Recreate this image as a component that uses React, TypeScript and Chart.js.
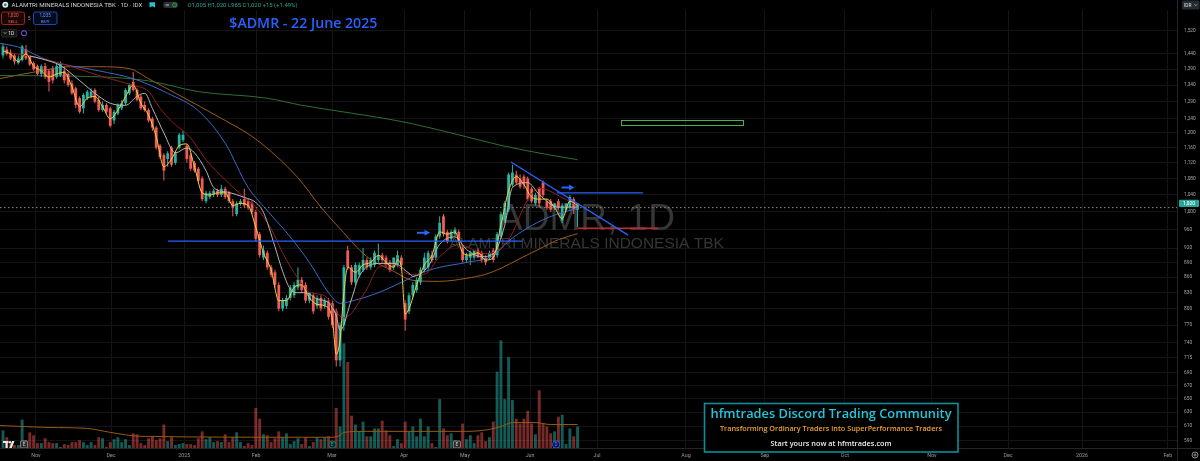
import React, { useEffect, useRef } from "react";
import { Chart, registerables } from "chart.js";

Chart.register(...registerables);

// ---------------- data ----------------
const openP = [1435,1455,1445,1435,1410,1420,1455,1430,1410,1400,1375,1400,1385,1390,1365,1370,1385,1375,1345,1330,1300,1270,1300,1305,1325,1295,1265,1280,1270,1235,1255,1270,1285,1315,1350,1325,1305,1280,1265,1240,1215,1165,1140,1130,1160,1120,1160,1180,1165,1140,1120,1105,1080,1025,1035,1040,1050,1040,1055,1045,1025,995,1020,1030,1025,1020,1000,950,900,910,880,870,845,800,805,820,825,840,855,845,815,825,805,820,805,815,810,795,710,770,915,880,850,865,875,895,880,885,895,905,900,890,880,885,900,810,795,825,835,850,875,880,905,900,945,990,955,940,950,955,920,895,900,900,915,910,900,900,915,905,945,980,1005,1065,1090,1080,1085,1080,1055,1020,1055,1070,1025,1025,1010,1025,980,1005,1010,1030,1005];
const highP = [1475,1465,1455,1440,1435,1470,1470,1435,1415,1405,1405,1410,1390,1400,1410,1415,1400,1380,1355,1335,1305,1315,1325,1330,1330,1305,1290,1285,1275,1265,1285,1295,1330,1345,1380,1330,1310,1290,1270,1245,1220,1170,1145,1150,1165,1150,1200,1205,1170,1145,1125,1110,1085,1050,1050,1055,1055,1065,1060,1050,1030,1025,1030,1055,1030,1025,1005,955,925,915,885,875,850,820,825,845,850,880,860,850,830,830,825,825,820,820,815,800,775,885,925,885,890,890,920,900,900,915,930,910,905,895,900,915,905,815,830,850,860,880,910,915,915,950,990,995,960,960,965,960,925,910,915,915,920,915,905,915,920,955,1000,1025,1095,1115,1100,1090,1090,1085,1060,1045,1060,1075,1030,1030,1020,1030,1020,1020,1040,1035,1020];
const lowP = [1425,1435,1420,1405,1405,1415,1420,1400,1385,1370,1365,1360,1320,1345,1360,1365,1345,1335,1310,1270,1255,1255,1295,1300,1285,1260,1260,1255,1215,1225,1250,1265,1280,1310,1320,1290,1265,1260,1230,1205,1155,1130,1075,1110,1110,1115,1155,1175,1120,1100,1095,1070,1025,1020,1030,1035,1035,1035,1030,1020,990,990,1015,1010,1005,995,935,900,895,875,860,840,795,795,800,815,820,835,830,810,810,790,800,795,800,780,765,700,700,760,875,845,845,860,870,875,875,880,890,890,880,870,875,880,880,760,790,820,830,845,870,875,890,895,940,945,930,935,945,935,890,890,885,895,900,890,885,895,890,900,940,975,1000,1060,1065,1055,1055,1025,1020,1015,1010,1035,1005,1000,1005,1005,975,1000,1005,995,965];
const closeP = [1465,1440,1425,1415,1425,1465,1425,1405,1390,1375,1400,1365,1350,1355,1400,1410,1355,1340,1315,1280,1260,1310,1320,1320,1290,1265,1280,1260,1220,1260,1280,1285,1325,1340,1325,1295,1270,1265,1235,1215,1160,1135,1100,1145,1115,1145,1195,1195,1130,1105,1100,1075,1030,1045,1045,1050,1040,1055,1035,1025,1010,1020,1025,1015,1010,1000,940,905,915,880,865,845,800,815,820,840,845,855,835,815,830,795,820,800,815,785,770,710,770,880,880,850,885,885,895,880,895,910,905,895,885,875,900,905,885,780,825,845,855,875,900,910,895,945,975,950,935,955,960,935,895,905,910,915,900,895,890,910,895,950,995,1020,1090,1095,1070,1060,1065,1030,1025,1040,1020,1040,1010,1005,1020,1010,1015,1020,1035,1005,1020];
const volumeM = [18,11,4,3,3,29,8,16,13,5,5,10,6,5,5,1,4,3,6,6,8,6,3,6,3,11,10,1,6,9,11,6,9,3,15,14,5,3,10,12,8,10,24,7,11,3,4,5,4,4,3,10,17,9,11,6,7,6,14,6,11,16,6,2,5,3,41,30,14,13,6,10,17,11,15,4,7,10,4,11,2,6,11,9,11,12,6,41,22,107,88,33,24,17,27,12,12,20,20,28,18,13,2,9,5,27,17,22,12,30,12,22,5,1,50,20,13,15,8,3,25,9,13,5,13,16,7,11,27,78,110,50,93,49,30,25,30,38,25,14,59,25,22,15,17,32,34,4,20,12,22];

// moving-average lines (bar index, price)
const maYellowIdx = [0,2,4,6,8,10,12,14,16,18,20,22,24,26,28,30,32,34,36,38,40,42,44,46,48,50,52,54,56,58,60,62,64,66,68,70,72,74,76,78,80,82,84,86,87,88,89,90,92,94,96,98,100,102,103,104,105,106,108,110,112,114,116,118,120,122,124,126,128,130,132,134,136,138,140,142,144,146,148,150];
const maYellowVal = [1450,1440,1415,1440,1400,1385,1365,1375,1380,1335,1275,1300,1305,1275,1240,1265,1305,1340,1285,1250,1190,1110,1130,1165,1170,1110,1045,1040,1045,1045,1015,1020,1015,965,910,875,815,815,840,845,820,808,805,780,720,745,830,880,870,885,890,905,890,880,895,880,790,800,845,885,905,955,950,955,910,905,910,895,900,970,1050,1085,1065,1035,1030,1030,1010,985,1025,1015];
const maGrayIdx = [7,10,15,20,25,28,32,35,37,39,42,45,48,50,53,55,59,63,66,68,71,73,75,77,79,82,85,87,88,91,93,98,102,106,107,111,114,118,121,125,128,131,133,137,140,145,150];
const maGrayVal = [1433,1424,1402,1354,1306,1285,1279,1306,1315,1270,1200,1146,1159,1146,1100,1058,1046,1034,1022,999,923,872,837,830,830,818,811,787,761,818,862,888,888,868,862,882,928,944,917,902,908,970,1058,1070,1041,1011,1011];
const maRedIdx = [2,7,17,25,34,38,41,44,49,53,58,63,66,70,73,77,80,84,87,89,95,98,102,106,110,114,119,126,132,137,140,147,150];
const maRedVal = [1443,1433,1402,1370,1339,1321,1270,1233,1186,1128,1077,1034,1011,962,910,858,831,824,794,783,837,880,886,866,866,902,927,908,938,1029,1056,1029,1015];
const maBlueIdx = [-1,4,12,25,34,43,51,58,64,68,75,80,85,88,91,98,104,109,114,121,128,132,137,142,147,150];
const maBlueVal = [1476,1463,1418,1385,1360,1315,1263,1172,1058,1013,944,890,830,810,814,830,850,868,880,890,904,935,964,986,1001,1008];
const maOrangeIdx = [-1,10,17,25,33,38,46,57,66,77,83,88,95,102,107,114,121,126,130,135,140,145,150];
const maOrangeVal = [1360,1385,1398,1398,1392,1360,1309,1241,1183,1082,1011,962,902,872,854,852,858,866,878,898,918,938,951];
const maGreenIdx = [-1,25,38,51,69,78,91,104,117,130,143,150];
const maGreenVal = [1370,1366,1353,1320,1300,1279,1256,1232,1200,1166,1140,1128];
const volMaIdx = [-1,12,22,28,36,78,86,88,89,95,121,127,130,133,139,143,150];
const volMaVal = [23,21,20,16,12,11,11,13,16,17,17,19,22,26,26,24,24];

// drawings on the chart
const supportIdx = [43.1, 135.5];
const supportVal = [935, 935];
const resistIdx = [144.6, 167.1];
const resistVal = [1045, 1045];
const trendIdx = [132.6, 163.2];
const trendVal = [1122, 948];
const redLevelIdx = [150, 171];
const redLevelVal = [963, 963];
const targetBoxIdx = [161.4, 193.2];
const targetBoxVal = [1221, 1235];
const arrowIdx = [109.8, 147.5];
const arrowVal = [953, 1058];
const eventIdx = [5.5, 86, 118.5, 144.4];
const eventKind = ["E", "C", "E", "D"];
const lastPriceLine = 1010;

// axes
const priceTicks = [590,610,630,650,670,690,715,740,770,800,830,860,890,920,960,1000,1040,1080,1120,1160,1200,1240,1290,1340,1390,1440,1520];
const monthTickIdx = [8.6,28.2,47.3,66.1,85.9,104.7,120.6,137.6,155.1,178.3,198.9,219.8,242.5,262.4,281.7,304.1];
const monthTickLabels = ["Nov","Dec","2025","Feb","Mar","Apr","May","Jun","Jul","Aug","Sep","Oct","Nov","Dec","2026","Feb"];
const X_MIN = -0.78;
const X_MAX = 306.5;
const Y_MIN = 580;
const Y_MAX = 1594;
const VOL_MAX = 448;

// ---------------- styles ----------------
const UP = "#2ab3a3";
const DN = "#f25c58";
const VOL_UP = "rgba(38,166,154,0.55)";
const VOL_DN = "rgba(239,83,80,0.5)";
const SANS = 'Roboto, "Noto Sans", "Liberation Sans", sans-serif';

const isUp = (i: number) => i != null && closeP[i] >= openP[i];
const pts = (xs: number[], ys: number[]) => xs.map((x, k) => ({ x, y: ys[k] }));

function txt(ctx: any, s: string, x: number, y: number, o: any) {
  ctx.save();
  ctx.font = `${o.weight || 400} ${o.size}px ${o.family || SANS}`;
  ctx.fillStyle = o.color;
  ctx.textBaseline = "alphabetic";
  ctx.textAlign = "left";
  const m = ctx.measureText(s).width;
  const sx = o.width ? o.width / m : 1;
  const w = m * sx;
  let left = x;
  if (o.align === "center") left = x - w / 2;
  else if (o.align === "right") left = x - w;
  ctx.translate(left, y);
  ctx.scale(sx, 1);
  ctx.fillText(s, 0, 0);
  ctx.restore();
}

function rrect(ctx: any, x: number, y: number, w: number, h: number, r: number) {
  ctx.beginPath();
  ctx.moveTo(x + r, y);
  ctx.lineTo(x + w - r, y);
  ctx.quadraticCurveTo(x + w, y, x + w, y + r);
  ctx.lineTo(x + w, y + h - r);
  ctx.quadraticCurveTo(x + w, y + h, x + w - r, y + h);
  ctx.lineTo(x + r, y + h);
  ctx.quadraticCurveTo(x, y + h, x, y + h - r);
  ctx.lineTo(x, y + r);
  ctx.quadraticCurveTo(x, y, x + r, y);
  ctx.closePath();
}

const overlay = {
  id: "overlay",
  beforeDraw(chart: any) {
    const ctx = chart.ctx;
    ctx.save();
    ctx.fillStyle = "#000";
    ctx.fillRect(0, 0, chart.width, chart.height);
    ctx.restore();
  },
  beforeDatasetsDraw(chart: any) {
    const ctx = chart.ctx;
    const a = chart.chartArea;
    const cx = (a.left + a.right) / 2 - 2;
    txt(ctx, "ADMR, 1D", cx, 230, { size: 37, family: '"Liberation Sans", Arial, sans-serif', color: "#363636", align: "center" });
    txt(ctx, "ALAMTRI MINERALS INDONESIA TBK", cx, 248, { size: 15.5, family: '"Liberation Sans", Arial, sans-serif', color: "#363636", align: "center" });
  },
  afterDatasetsDraw(chart: any) {
    const ctx = chart.ctx;
    const xs = chart.scales.x;
    const ys = chart.scales.y;
    const a = chart.chartArea;
    ctx.save();
    ctx.beginPath();
    ctx.rect(a.left, a.top, a.right - a.left, a.bottom - a.top);
    ctx.clip();
    // target box
    const bx0 = xs.getPixelForValue(targetBoxIdx[0]);
    const bx1 = xs.getPixelForValue(targetBoxIdx[1]);
    const by0 = ys.getPixelForValue(targetBoxVal[1]);
    const by1 = ys.getPixelForValue(targetBoxVal[0]);
    ctx.strokeStyle = "#4caf50";
    ctx.lineWidth = 1;
    ctx.strokeRect(Math.round(bx0) + 0.5, Math.round(by0) + 0.5, Math.round(bx1 - bx0), Math.round(by1 - by0));
    // arrows
    ctx.fillStyle = "#2962ff";
    arrowIdx.forEach((ix, k) => {
      const px = xs.getPixelForValue(ix);
      const py = ys.getPixelForValue(arrowVal[k]);
      ctx.fillRect(px - 6.5, py - 1, 8, 2);
      ctx.beginPath();
      ctx.moveTo(px + 1, py - 3);
      ctx.lineTo(px + 6.5, py);
      ctx.lineTo(px + 1, py + 3);
      ctx.closePath();
      ctx.fill();
    });
    // event markers
    eventIdx.forEach((ix, k) => {
      const px = xs.getPixelForValue(ix);
      const py = 444.5;
      const kind = eventKind[k];
      if (kind === "E") {
        rrect(ctx, px - 3.5, py - 3.5, 7, 7, 1);
        ctx.fillStyle = "#2a2a2a";
        ctx.fill();
        ctx.strokeStyle = "#9e9e9e";
        ctx.lineWidth = 0.8;
        ctx.stroke();
        txt(ctx, "E", px, py + 1.8, { size: 4.8, color: "#d0d0d0", align: "center" });
      } else {
        ctx.beginPath();
        ctx.arc(px, py, 3.6, 0, Math.PI * 2);
        ctx.fillStyle = kind === "D" ? "#06123a" : "#062421";
        ctx.fill();
        ctx.strokeStyle = kind === "D" ? "#2962ff" : "#1f8a7e";
        ctx.lineWidth = 0.9;
        ctx.stroke();
        txt(ctx, kind === "D" ? "D" : "E", px, py + 1.8, { size: 4.6, color: kind === "D" ? "#6f93ff" : "#48b3a6", align: "center" });
      }
    });
    ctx.restore();
  },
  afterDraw(chart: any) {
    const ctx = chart.ctx;
    const ys = chart.scales.y;
    const a = chart.chartArea;
    ctx.save();
    // pane borders
    ctx.strokeStyle = "#262626";
    ctx.lineWidth = 1;
    ctx.beginPath();
    ctx.moveTo(a.right + 0.5, 0);
    ctx.lineTo(a.right + 0.5, chart.height);
    ctx.moveTo(0, a.bottom + 0.5);
    ctx.lineTo(chart.width, a.bottom + 0.5);
    ctx.stroke();

    // last price label
    const last = closeP[closeP.length - 1];
    const ly = ys.getPixelForValue(last);
    ctx.fillStyle = "#26a69a";
    rrect(ctx, a.right + 2, ly - 3.6, 20, 7.2, 1);
    ctx.fill();
    txt(ctx, last.toLocaleString("en-US"), a.right + 12, ly + 1.7, { size: 4.8, color: "#ffffff", align: "center", weight: 500 });

    // IDR box
    ctx.fillStyle = "#262a33";
    rrect(ctx, 1182, 0.5, 17.5, 9, 1.5);
    ctx.fill();
    txt(ctx, "IDR", 1184, 6.8, { size: 4.8, color: "#e0e0e0" });
    ctx.strokeStyle = "#cfcfcf";
    ctx.lineWidth = 0.7;
    ctx.beginPath();
    ctx.moveTo(1194.5, 4.3);
    ctx.lineTo(1195.8, 5.6);
    ctx.lineTo(1197.1, 4.3);
    ctx.stroke();

    // gear icon
    ctx.strokeStyle = "#9a9a9a";
    ctx.lineWidth = 0.9;
    ctx.beginPath();
    ctx.arc(1195, 455, 3, 0, Math.PI * 2);
    ctx.stroke();
    ctx.beginPath();
    ctx.arc(1195, 455, 1.1, 0, Math.PI * 2);
    ctx.stroke();

    // TradingView logo (bottom-left)
    ctx.fillStyle = "#e6e6e6";
    ctx.fillRect(3, 441, 5.5, 2);
    ctx.fillRect(5.5, 441, 2.2, 7);
    ctx.beginPath();
    ctx.arc(10, 442.2, 1.2, 0, Math.PI * 2);
    ctx.fill();
    ctx.beginPath();
    ctx.moveTo(12, 441);
    ctx.lineTo(14.5, 441);
    ctx.lineTo(11.8, 448);
    ctx.lineTo(9.3, 448);
    ctx.closePath();
    ctx.fill();

    // header: symbol line
    ctx.beginPath();
    ctx.arc(5.3, 4.8, 3, 0, Math.PI * 2);
    ctx.fillStyle = "#dfe7ea";
    ctx.fill();
    ctx.beginPath();
    ctx.arc(5.3, 4.8, 1.4, 0, Math.PI * 2);
    ctx.fillStyle = "#1b7b8f";
    ctx.fill();
    txt(ctx, "ALAMTRI MINERALS INDONESIA TBK · 1D · IDX", 11.5, 7.4, { size: 5.6, color: "#d1d4dc", width: 131 });
    ctx.fillStyle = "#1fc2d6";
    ctx.beginPath();
    ctx.moveTo(149.5, 2.3);
    ctx.lineTo(155, 2.3);
    ctx.lineTo(155, 7.6);
    ctx.lineTo(152.2, 6.2);
    ctx.lineTo(149.5, 7.6);
    ctx.closePath();
    ctx.fill();
    ctx.fillStyle = "#2a2e39";
    rrect(ctx, 163, 1.8, 15, 6.2, 3);
    ctx.fill();
    ctx.fillStyle = "#9aa0a6";
    ctx.fillRect(165.5, 4, 3.5, 0.7);
    ctx.fillRect(165.5, 5.4, 3.5, 0.7);
    ctx.beginPath();
    ctx.arc(174.6, 4.9, 2.1, 0, Math.PI * 2);
    ctx.fillStyle = "#1d5a2a";
    ctx.fill();
    ctx.strokeStyle = "#4caf50";
    ctx.lineWidth = 0.6;
    ctx.stroke();
    txt(ctx, "O1,005 H1,020 L965 C1,020 +15 (+1.49%)", 187.5, 7.4, { size: 5.6, color: "#26a69a", width: 110 });

    // sell / buy boxes
    rrect(ctx, 1.5, 12, 23, 12.5, 2);
    ctx.fillStyle = "#1c0707";
    ctx.fill();
    ctx.strokeStyle = "#b3261e";
    ctx.lineWidth = 0.9;
    ctx.stroke();
    txt(ctx, "1,020", 13, 17.4, { size: 4.6, color: "#f0625d", align: "center" });
    txt(ctx, "SELL", 13, 22.8, { size: 4.4, color: "#f0625d", align: "center" });
    txt(ctx, "5", 29.3, 20, { size: 4.6, color: "#9a9a9a", align: "center" });
    rrect(ctx, 33.5, 12, 23.5, 12.5, 2);
    ctx.fillStyle = "#050b1e";
    ctx.fill();
    ctx.strokeStyle = "#2350c2";
    ctx.stroke();
    txt(ctx, "1,035", 45.2, 17.4, { size: 4.6, color: "#6d97ff", align: "center" });
    txt(ctx, "BUY", 45.2, 22.8, { size: 4.4, color: "#6d97ff", align: "center" });

    // interval button
    rrect(ctx, 1.5, 29.5, 15.5, 7.5, 1.5);
    ctx.fillStyle = "#161616";
    ctx.fill();
    ctx.strokeStyle = "#3a3a3a";
    ctx.lineWidth = 0.6;
    ctx.stroke();
    ctx.strokeStyle = "#d0d0d0";
    ctx.lineWidth = 0.7;
    ctx.beginPath();
    ctx.moveTo(3.8, 32.3);
    ctx.lineTo(5.1, 33.6);
    ctx.lineTo(6.4, 32.3);
    ctx.stroke();
    txt(ctx, "1D", 8.2, 35.2, { size: 5, color: "#e0e0e0" });
    ctx.strokeStyle = "#8e5cff";
    ctx.lineWidth = 1;
    ctx.beginPath();
    ctx.arc(24, 33.3, 2.6, 0, Math.PI * 2);
    ctx.stroke();

    // title
    txt(ctx, "$ADMR - 22 June 2025", 229.3, 27.6, { size: 14, weight: 600, family: '"Open Sans", Roboto, sans-serif', color: "#2962ff", width: 148 });

    // promo box
    ctx.fillStyle = "#000";
    ctx.fillRect(704, 403, 254, 49);
    ctx.strokeStyle = "#0a8f9a";
    ctx.lineWidth = 1.6;
    ctx.strokeRect(704.5, 403.5, 253.5, 48.5);
    txt(ctx, "hfmtrades Discord Trading Community", 831, 417.5, { size: 13, weight: 600, family: '"Open Sans", Roboto, sans-serif', color: "#1ec8dc", align: "center", width: 241 });
    txt(ctx, "Transforming Ordinary Traders into SuperPerformance Traders", 831, 431.2, { size: 7, weight: 600, family: '"Open Sans", Roboto, sans-serif', color: "#f0a22e", align: "center", width: 222 });
    txt(ctx, "Start yours now at hfmtrades.com", 831, 446.4, { size: 7.2, weight: 600, family: '"Open Sans", Roboto, sans-serif', color: "#ececec", align: "center", width: 121 });
    ctx.restore();
  },
};

export default function App() {
  const ref = useRef<HTMLCanvasElement>(null);
  useEffect(() => {
    document.body.style.margin = "0";
    document.body.style.background = "#000";
    const idx = openP.map((_, i) => i);
    const wickData = idx.map((i) => ({ x: i, y: [lowP[i], highP[i]] }));
    const bodyData = idx.map((i) => ({ x: i, y: [Math.min(openP[i], closeP[i]), Math.max(openP[i], closeP[i])] }));
    const volData = idx.map((i) => ({ x: i, y: volumeM[i] }));
    const candleColor = (c: any) => (isUp(c.dataIndex) ? UP : DN);
    const line = (data: any[], color: string, order: number, extra: any = {}) => ({
      type: "line",
      data,
      borderColor: color,
      borderWidth: 1,
      pointRadius: 0,
      pointHoverRadius: 0,
      fill: false,
      cubicInterpolationMode: "monotone",
      yAxisID: "y",
      order,
      ...extra,
    });

    const chart = new Chart(ref.current as HTMLCanvasElement, {
      type: "line",
      data: {
        datasets: [
          {
            type: "bar",
            data: volData,
            yAxisID: "yv",
            backgroundColor: (c: any) => (isUp(c.dataIndex) ? VOL_UP : VOL_DN),
            barThickness: 2.9,
            grouped: false,
            inflateAmount: 0,
            borderWidth: 0,
            order: 30,
          } as any,
          line(pts(volMaIdx, volMaVal), "#9a5a12", 29, { yAxisID: "yv" }),
          line(pts(maGreenIdx, maGreenVal), "#2f6e34", 12),
          line(pts(maOrangeIdx, maOrangeVal), "#9c5c17", 12),
          {
            type: "bar",
            data: wickData,
            yAxisID: "y",
            backgroundColor: candleColor,
            barThickness: 1,
            grouped: false,
            inflateAmount: 0,
            borderWidth: 0,
            order: 10,
          } as any,
          {
            type: "bar",
            data: bodyData,
            yAxisID: "y",
            backgroundColor: candleColor,
            barThickness: 2.8,
            grouped: false,
            inflateAmount: 0,
            borderWidth: 0,
            minBarLength: 1,
            order: 9,
          } as any,
          line(pts(maBlueIdx, maBlueVal), "#3a68c8", 6),
          line(pts(maRedIdx, maRedVal), "#8e1f1f", 5),
          line(pts(maGrayIdx, maGrayVal), "#b5b5b5", 4),
          line(pts(maYellowIdx, maYellowVal), "#f2d23c", 3),
          line(pts([X_MIN, X_MAX], [lastPriceLine, lastPriceLine]), "#8a8a8a", 2, { borderDash: [1.5, 2.5], cubicInterpolationMode: "default", tension: 0 }),
          line(pts(supportIdx, supportVal), "#2962ff", 1, { borderWidth: 1.3, cubicInterpolationMode: "default", tension: 0 }),
          line(pts(resistIdx, resistVal), "#2962ff", 1, { borderWidth: 1.3, cubicInterpolationMode: "default", tension: 0 }),
          line(pts(trendIdx, trendVal), "#2962ff", 1, { borderWidth: 1.3, cubicInterpolationMode: "default", tension: 0 }),
          line(pts(redLevelIdx, redLevelVal), "#c62828", 1, { borderWidth: 1.3, cubicInterpolationMode: "default", tension: 0 }),
        ] as any,
      },
      options: {
        responsive: false,
        maintainAspectRatio: false,
        animation: false,
        devicePixelRatio: 1,
        layout: { padding: 0, autoPadding: false } as any,
        plugins: { legend: { display: false }, tooltip: { enabled: false } },
        events: [],
        scales: {
          x: {
            type: "linear",
            min: X_MIN,
            max: X_MAX,
            bounds: "data",
            offset: false,
            afterFit: (s: any) => {
              s.height = 13;
            },
            afterBuildTicks: (s: any) => {
              s.ticks = monthTickIdx.map((v) => ({ value: v }));
            },
            ticks: {
              callback: (_v: any, i: number) => monthTickLabels[i],
              font: { size: 5.3, family: SANS },
              color: "#9a9a9a",
              padding: 4,
              maxRotation: 0,
              minRotation: 0,
              autoSkip: false,
            },
            grid: { color: "#141414", drawTicks: false, offset: false, lineWidth: 1 },
            border: { display: false },
          },
          y: {
            type: "logarithmic",
            position: "right",
            min: Y_MIN,
            max: Y_MAX,
            bounds: "data",
            afterFit: (s: any) => {
              s.width = 23;
            },
            afterBuildTicks: (s: any) => {
              s.ticks = priceTicks.map((v) => ({ value: v }));
            },
            ticks: {
              callback: (v: any) => Number(v).toLocaleString("en-US"),
              font: { size: 4.8, family: SANS },
              color: "#a8a8a8",
              padding: 7,
              autoSkip: false,
            },
            grid: { color: "#141414", drawTicks: false },
            border: { display: false },
          },
          yv: {
            type: "linear",
            display: false,
            min: 0,
            max: VOL_MAX,
          },
        } as any,
      },
      plugins: [overlay],
    } as any);
    return () => chart.destroy();
  }, []);
  return (
    <div style={{ position: "fixed", left: 0, top: 0, width: 1200, height: 461, background: "#000" }}>
      <canvas ref={ref} width={1200} height={461} style={{ display: "block", width: 1200, height: 461 }} />
    </div>
  );
}
